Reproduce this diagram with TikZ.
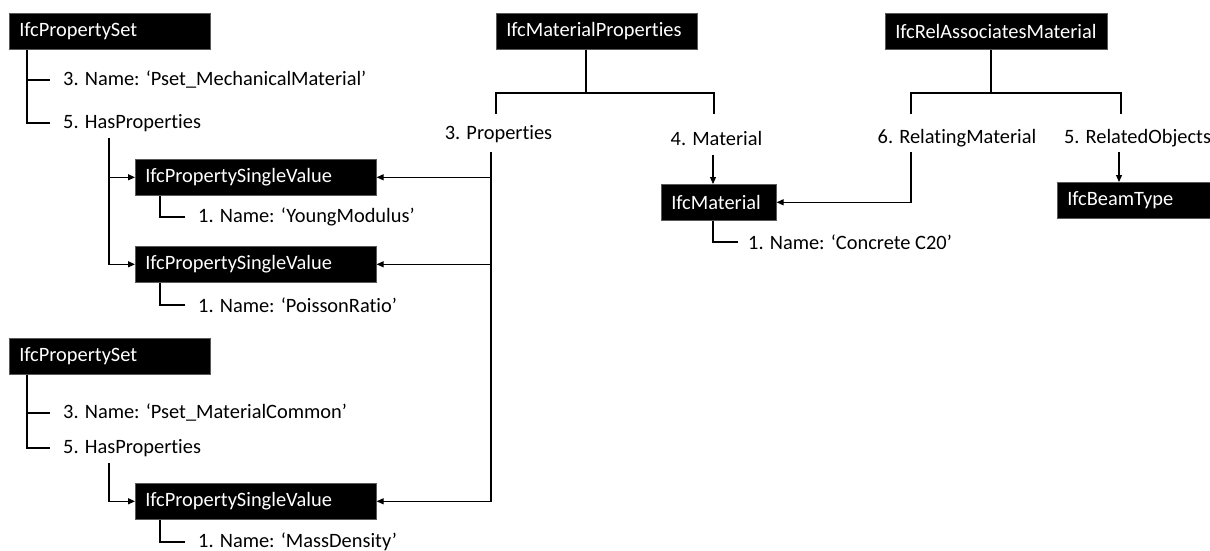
\documentclass[tikz,border=0pt]{standalone}
\usepackage{fontspec}
\setmainfont{Carlito}[Ligatures={NoCommon,NoContextual}]
\usetikzlibrary{arrows.meta,calc}
\begin{document}
\begin{tikzpicture}[x=1pt,y=-1pt,
  txt/.style={font=\fontsize{20.4}{24}\selectfont},
  ent/.style={txt, fill=black, draw=black!65, line width=0.6pt, text=white,
    anchor=north west, inner xsep=10pt, inner ysep=0pt, minimum height=36pt,
    text width=#1pt, align=left},
  lbl/.style={txt, anchor=west, inner xsep=13pt, inner ysep=0pt},
  clbl/.style={txt, anchor=center, inner sep=0pt},
  ln/.style={draw=black, line width=1.2pt},
  arr/.style={ln, -{Triangle[length=7pt,width=6pt]}},
]
\useasboundingbox (0,0) rectangle (1210,551);

% entity boxes
\node[ent=181] (ps1)  at (9,13)    {IfcPropertySet};
\node[ent=221] (psv1) at (135,159) {IfcPropertySingleValue};
\node[ent=221] (psv2) at (135,246) {IfcPropertySingleValue};
\node[ent=181] (ps2)  at (9,338)   {IfcPropertySet};
\node[ent=221] (psv3) at (135,483) {IfcPropertySingleValue};
\node[ent=181] (mp)   at (496,13)  {IfcMaterialProperties};
\node[ent=202] (ram)  at (885,13)  {IfcRelAssociatesMaterial};
\node[ent=95]  (mat)  at (661,184) {IfcMaterial};
\node[ent=133] (beam) at (1057,182) {IfcBeamType};

% attribute labels
\node[lbl] (a1) at (50,80)   {3. Name: ‘Pset\_MechanicalMaterial’};
\node[lbl] (a2) at (50,123)  {5. HasProperties};
\node[lbl] (b1) at (185,217) {1. Name: ‘YoungModulus’};
\node[lbl] (b2) at (185,305) {1. Name: ‘PoissonRatio’};
\node[lbl] (c1) at (50,413)  {3. Name: ‘Pset\_MaterialCommon’};
\node[lbl] (c2) at (50,448)  {5. HasProperties};
\node[lbl] (d1) at (185,542) {1. Name: ‘MassDensity’};
\node[lbl, inner xsep=10pt] (m1) at (738,242) {1. Name: ‘Concrete C20’};

\node[clbl] (props) at (498.5,134) {3. Properties};
\node[clbl] (matl)  at (716.5,138) {4. Material};
\node[clbl] (relm)  at (957,138)   {6. RelatingMaterial};
\node[clbl] (relo)  at (1137.5,138) {5. RelatedObjects};

% junction points
\coordinate (mpj)  at (586,93);
\coordinate (ptl)  at (496,114);
\coordinate (ptr)  at (714,114);
\coordinate (ramj) at (991,93);
\coordinate (rtl)  at (911,114);
\coordinate (rtr)  at (1121,114);
\coordinate (hp1)  at (109,138);
\coordinate (hp2)  at (109,463);
\coordinate (prin) at (491,152);
\coordinate (matin) at (713,155);
\coordinate (rmin) at (911,152);
\coordinate (roin) at (1119,152);

% attribute trees
\draw[ln] ([xshift=18pt]ps1.south west) |- (a1.west);
\draw[ln] ([xshift=18pt]ps1.south west) |- (a2.west);
\draw[ln] ([xshift=25pt]psv1.south west) |- (b1.west);
\draw[ln] ([xshift=25pt]psv2.south west) |- (b2.west);
\draw[ln] ([xshift=18pt]ps2.south west) |- (c1.west);
\draw[ln] ([xshift=18pt]ps2.south west) |- (c2.west);
\draw[ln] ([xshift=25pt]psv3.south west) |- (d1.west);
\draw[ln] ([xshift=52pt]mat.south west) |- (m1.west);

% HasProperties references
\draw[arr] (hp1) |- (psv1.west);
\draw[arr] (hp1) |- (psv2.west);
\draw[arr] (hp2) |- (psv3.west);

% IfcMaterialProperties
\draw[ln] (mp.south -| mpj) -- (mpj);
\draw[ln] (ptl) -- (ptl |- mpj) -- (ptr |- mpj) -- (ptr);
\draw[arr] (prin) |- (psv1.east);
\draw[arr] (prin) |- (psv2.east);
\draw[arr] (prin) |- (psv3.east);
\draw[arr] (matin) -- (matin |- mat.north);

% IfcRelAssociatesMaterial
\draw[ln] (ram.south -| ramj) -- (ramj);
\draw[ln] (rtl) -- (rtl |- ramj) -- (rtr |- ramj) -- (rtr);
\draw[arr] (rmin) |- (mat.east);
\draw[arr] (roin) -- (roin |- beam.north);
\end{tikzpicture}
\end{document}
